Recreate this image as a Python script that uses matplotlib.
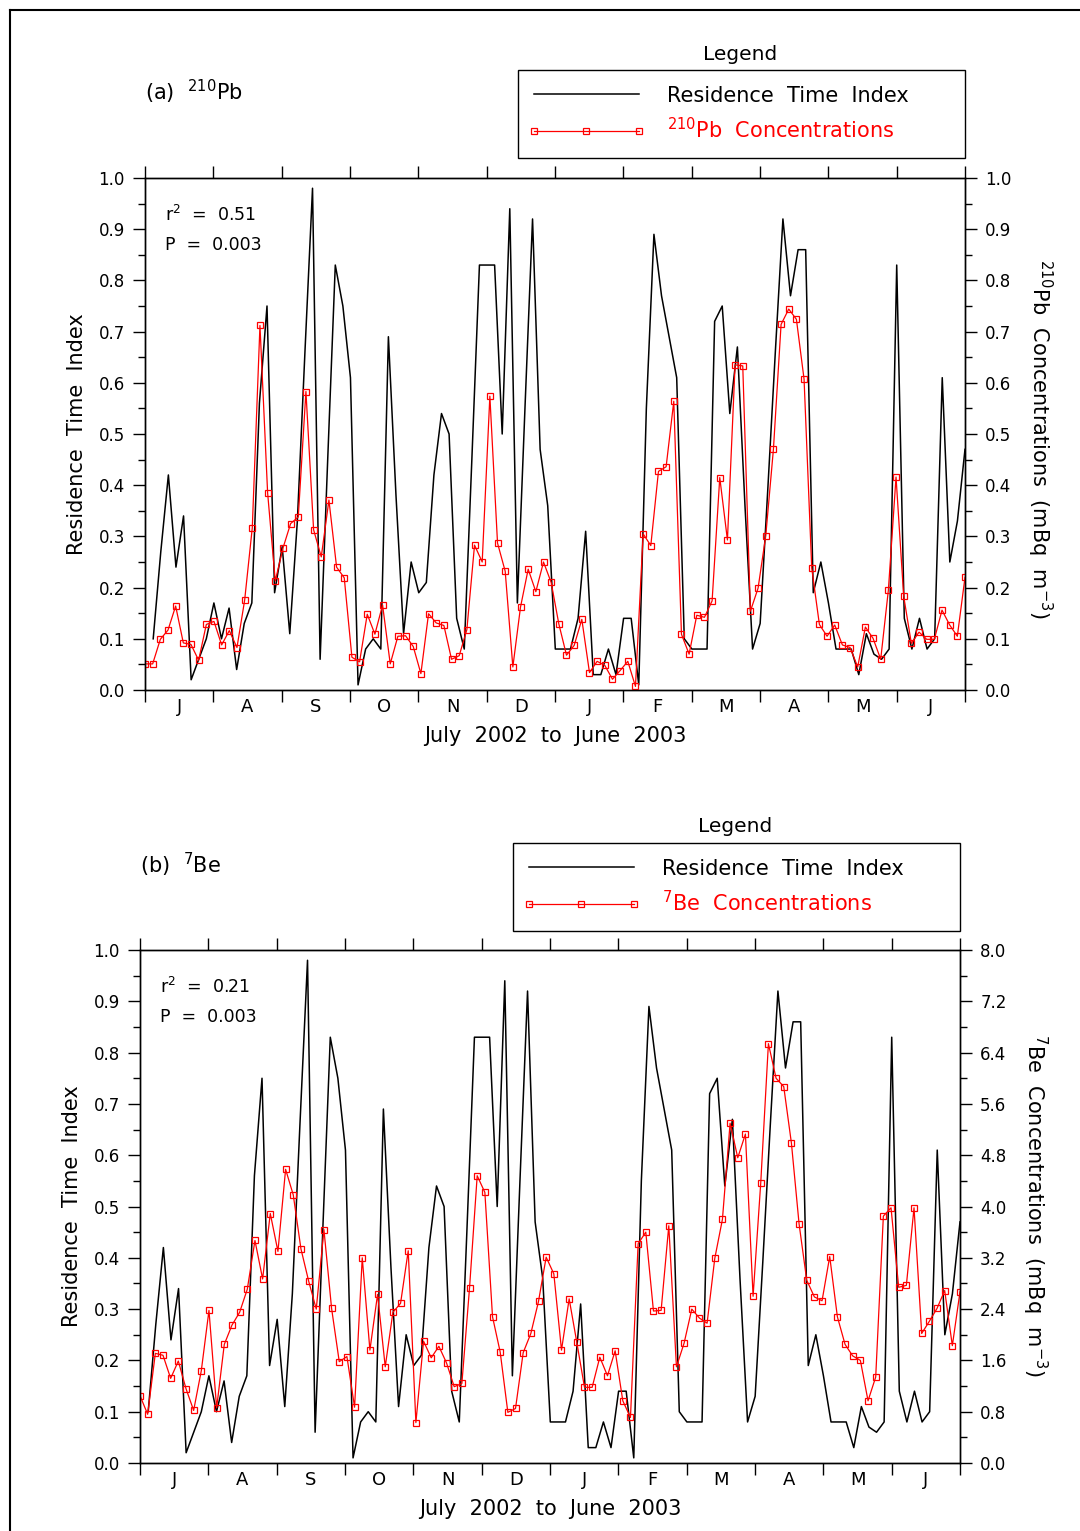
import numpy as np
import matplotlib
matplotlib.use("Agg")
import matplotlib.pyplot as plt
from matplotlib.lines import Line2D
from matplotlib.legend_handler import HandlerLine2D
from matplotlib.ticker import MultipleLocator, FormatStrFormatter

plt.rcParams['font.family'] = ['DejaVu Sans']
plt.rcParams['mathtext.fontset'] = 'dejavusans'

#-----data-----
months = ['J', 'A', 'S', 'O', 'N', 'D', 'J', 'F', 'M', 'A', 'M', 'J']

# residence time index (same series in both panels)
rti = [0.10, 0.27, 0.42, 0.24, 0.34, 0.02, 0.06, 0.10, 0.17, 0.10,
       0.16, 0.04, 0.13, 0.17, 0.56, 0.75, 0.19, 0.28, 0.11, 0.33,
       0.66, 0.98, 0.06, 0.45, 0.83, 0.75, 0.61, 0.01, 0.08, 0.10,
       0.08, 0.69, 0.38, 0.11, 0.25, 0.19, 0.21, 0.42, 0.54, 0.50,
       0.14, 0.08, 0.45, 0.83, 0.83, 0.83, 0.50, 0.94, 0.17, 0.55,
       0.92, 0.47, 0.36, 0.08, 0.08, 0.08, 0.14, 0.31, 0.03, 0.03,
       0.08, 0.03, 0.14, 0.14, 0.01, 0.55, 0.89, 0.77, 0.69, 0.61,
       0.10, 0.08, 0.08, 0.08, 0.72, 0.75, 0.54, 0.67, 0.36, 0.08,
       0.13, 0.39, 0.66, 0.92, 0.77, 0.86, 0.86, 0.19, 0.25, 0.17,
       0.08, 0.08, 0.08, 0.03, 0.11, 0.07, 0.06, 0.08, 0.83, 0.14,
       0.08, 0.14, 0.08, 0.10, 0.61, 0.25, 0.33, 0.47]

# 210Pb concentrations (mBq m-3)
pb210 = [0.051, 0.051, 0.099, 0.117, 0.164, 0.092, 0.089, 0.058, 0.128, 0.134,
         0.088, 0.116, 0.083, 0.175, 0.317, 0.712, 0.385, 0.213, 0.277, 0.325,
         0.338, 0.583, 0.313, 0.260, 0.371, 0.240, 0.219, 0.064, 0.055, 0.148,
         0.109, 0.166, 0.051, 0.105, 0.106, 0.085, 0.032, 0.149, 0.131, 0.126,
         0.060, 0.067, 0.118, 0.283, 0.250, 0.574, 0.287, 0.232, 0.045, 0.162,
         0.236, 0.192, 0.250, 0.210, 0.129, 0.068, 0.087, 0.138, 0.034, 0.056,
         0.048, 0.021, 0.038, 0.056, 0.007, 0.305, 0.282, 0.427, 0.436, 0.564,
         0.109, 0.070, 0.146, 0.142, 0.174, 0.415, 0.293, 0.635, 0.633, 0.154,
         0.199, 0.301, 0.470, 0.714, 0.744, 0.724, 0.607, 0.238, 0.128, 0.105,
         0.127, 0.088, 0.083, 0.045, 0.123, 0.101, 0.060, 0.195, 0.416, 0.183,
         0.091, 0.113, 0.099, 0.099, 0.156, 0.127, 0.105, 0.220]

# 7Be concentrations (mBq m-3)
be7 = [1.05, 0.76, 1.71, 1.68, 1.32, 1.59, 1.16, 0.82, 1.44, 2.38,
       0.86, 1.85, 2.15, 2.35, 2.71, 3.47, 2.87, 3.89, 3.30, 4.58,
       4.18, 3.34, 2.84, 2.40, 3.64, 2.41, 1.58, 1.66, 0.87, 3.20,
       1.76, 2.63, 1.50, 2.35, 2.49, 3.31, 0.63, 1.90, 1.64, 1.82,
       1.56, 1.19, 1.24, 2.73, 4.48, 4.22, 2.28, 1.73, 0.79, 0.85,
       1.72, 2.02, 2.52, 3.21, 2.95, 1.76, 2.56, 1.88, 1.18, 1.18,
       1.65, 1.36, 1.75, 0.97, 0.71, 3.42, 3.60, 2.37, 2.38, 3.70,
       1.50, 1.87, 2.40, 2.26, 2.18, 3.19, 3.80, 5.30, 4.76, 5.13,
       2.60, 4.37, 6.54, 6.00, 5.87, 4.99, 3.73, 2.85, 2.59, 2.53,
       3.22, 2.28, 1.85, 1.67, 1.60, 0.97, 1.34, 3.85, 3.98, 2.74,
       2.77, 3.98, 2.02, 2.21, 2.41, 2.69, 1.83, 2.67]

# sampling positions, in months since 1 July 2002
x_conc = np.linspace(0, 12, len(pb210))
x_rti = np.linspace(0.12, 12, len(rti))

W, H = 1080, 1531
fig = plt.figure(figsize=(W / 100, H / 100), dpi=100)
fig.patch.set_facecolor('white')

# outer frame (top and left edge)
fig.add_artist(Line2D([10 / W, 1], [1 - 10 / H, 1 - 10 / H], color='black', lw=1.5,
                      transform=fig.transFigure))
fig.add_artist(Line2D([10 / W, 10 / W], [0, 1 - 10 / H], color='black', lw=1.5,
                      transform=fig.transFigure))


def px_rect(x0, y0, x1, y1):
    return [x0 / W, 1 - y1 / H, (x1 - x0) / W, (y1 - y0) / H]


def draw_panel(box, conc, cmax, cstep, tag, name, r2, pval, legbox, legtitle_xy, tag_xy, rlab_y):
    ax = fig.add_axes(px_rect(*box))
    ax2 = ax.twinx()

    l1, = ax.plot(x_rti, rti, color='black', lw=1.1)
    l2, = ax2.plot(x_conc, conc, color='red', lw=0.9, marker='s', ms=5,
                   mfc='none', mec='red', mew=0.9)

    #-----x axis-----
    ax.set_xlim(0, 12)
    ax.set_xticks(np.arange(13))
    ax.set_xticklabels([])
    ax.set_xticks(np.arange(12) + 0.5, minor=True)
    ax.set_xticklabels(months, minor=True, fontsize=13)
    ax.tick_params(axis='x', which='major', direction='out', length=8.5, width=1,
                   top=True, bottom=True)
    ax.tick_params(axis='x', which='minor', length=0, pad=6, top=False)
    ax.set_xlabel('July  2002  to  June  2003', fontsize=15, va='center')
    ax.xaxis.set_label_coords(0.5, -0.09)

    #-----left axis-----
    ax.set_ylim(0, 1)
    ax.yaxis.set_major_locator(MultipleLocator(0.1))
    ax.yaxis.set_minor_locator(MultipleLocator(0.05))
    ax.yaxis.set_major_formatter(FormatStrFormatter('%.1f'))
    ax.tick_params(axis='y', which='major', direction='out', length=8.5, width=1,
                   labelsize=12, pad=6)
    ax.tick_params(axis='y', which='minor', direction='out', length=5, width=1)
    ax.set_ylabel('Residence  Time  Index', fontsize=15, va='center', ha='center')
    ax.yaxis.set_label_coords(-0.083, 0.5)

    #-----right axis-----
    ax2.set_ylim(0, cmax)
    ax2.yaxis.set_major_locator(MultipleLocator(cstep))
    ax2.yaxis.set_minor_locator(MultipleLocator(cstep / 2))
    ax2.yaxis.set_major_formatter(FormatStrFormatter('%.1f'))
    ax2.tick_params(axis='y', which='major', direction='out', length=8.5, width=1,
                    labelsize=12, pad=6)
    ax2.tick_params(axis='y', which='minor', direction='out', length=5, width=1)
    ax2.set_ylabel(name + '  Concentrations  (mBq  m$^{-3}$)', fontsize=15,
                   rotation=-90, va='center', ha='center')
    ax2.yaxis.set_label_coords(1.091, rlab_y)

    for a in (ax, ax2):
        for s in a.spines.values():
            s.set_linewidth(1.0)

    #-----stats-----
    ax.text(0.024, 0.927, 'r$^2$  =  ' + r2, transform=ax.transAxes, fontsize=12.5,
            va='center', ha='left')
    ax.text(0.024, 0.869, 'P  =  ' + pval, transform=ax.transAxes, fontsize=12.5,
            va='center', ha='left')

    #-----panel tag-----
    fig.text(tag_xy[0] / W, 1 - tag_xy[1] / H, tag + '  ' + name, fontsize=15,
             va='center', ha='left')

    #-----legend-----
    x0, y0, x1, y1 = legbox
    leg = ax.legend(handles=[l1, l2],
                    labels=['Residence  Time  Index', name + '  Concentrations'],
                    loc='upper left',
                    bbox_to_anchor=(x0 / W, 1 - y1 / H, (x1 - x0) / W, (y1 - y0) / H),
                    bbox_transform=fig.transFigure, mode='expand', borderaxespad=0,
                    fancybox=False, edgecolor='black', framealpha=1, numpoints=3,
                    handlelength=5.05, handletextpad=1.35, labelspacing=0.55,
                    borderpad=0.75, fontsize=15, labelcolor=['black', 'red'],
                    handler_map={Line2D: HandlerLine2D(marker_pad=0)})
    leg.get_frame().set_linewidth(1.0)
    fig.text(legtitle_xy[0] / W, 1 - legtitle_xy[1] / H, 'Legend', fontsize=14.5,
             va='center', ha='center')
    return ax, ax2


draw_panel((145, 178, 965, 690), pb210, 1.0, 0.1, '(a)', '$^{210}$Pb', '0.51', '0.003',
           (518, 70, 965, 157), (740, 54), (145, 92), 0.49)
draw_panel((140, 950, 960, 1463), be7, 8.0, 0.8, '(b)', '$^{7}$Be', '0.21', '0.003',
           (513, 843, 960, 930), (735, 827), (140, 865), 0.503)

fig.savefig('out.png', dpi=100, facecolor='white')
